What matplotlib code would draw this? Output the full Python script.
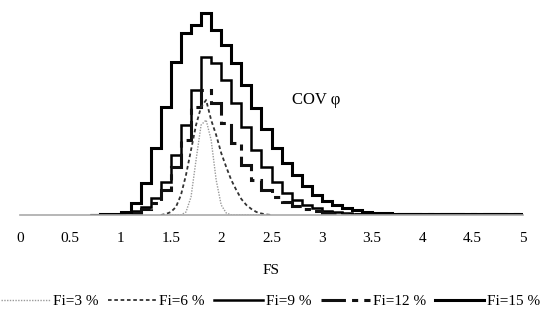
import numpy as np
import matplotlib
matplotlib.use("Agg")
import matplotlib.pyplot as plt

plt.rcParams['font.family'] = ['Liberation Serif', 'DejaVu Serif']

# FS bins for the coarse histograms (0.1 wide)
fs_edges = np.round(np.arange(0.7, 5.01, 0.1), 2)

# frequency per bin
fi15 = [0.5, 1, 1.5, 3, 12, 32, 67, 108, 153, 182, 190, 202, 185, 170, 152,
        130, 107, 86, 67, 52, 40, 29, 20, 14, 10, 7, 5, 3.5, 2.5, 2, 1.5,
        1.2, 1, 1, 1, 1, 1, 1, 1, 1, 1, 1, 1]
fi9 = [0, 0, 1, 2, 4, 8, 17, 33, 60, 90, 125, 158, 152, 135, 112,
       88, 65, 48, 33, 22, 15, 10, 7, 4, 3, 2, 1, 1, 1, 1, 1,
       1, 1, 1, 1, 1, 1, 1, 1, 1, 1, 1, 1]
fi12 = [0, 0, 0, 1, 2, 6, 12, 25, 48, 75, 108, 125, 112, 92, 72,
        50, 35, 25, 18, 13, 9, 6, 4, 2, 1, 1, 1, 1, 1, 1, 1,
        1, 1, 1, 1, 1, 1, 1, 1, 1, 1, 1, 1]

# fine curves (0.05 spacing)
fs_fine = [1.4, 1.45, 1.5, 1.55, 1.6, 1.65, 1.7, 1.75, 1.8, 1.85, 1.9, 1.95,
           2.0, 2.05, 2.1, 2.15, 2.2, 2.25, 2.3, 2.35, 2.4, 2.45, 2.5]
fi6 = [0, 1, 3, 8, 20, 40, 65, 90, 108, 115, 95, 80,
       62, 48, 35, 25, 16, 10, 6, 3, 1.5, 0.5, 0]
fi3 = [0, 0, 0, 0, 0, 3, 18, 55, 90, 95, 75, 35,
       10, 2, 0, 0, 0, 0, 0, 0, 0, 0, 0]

labels = ['Fi=3 %', 'Fi=6 %', 'Fi=9 %', 'Fi=12 %', 'Fi=15 %']

fig = plt.figure(figsize=(5.41, 3.23), dpi=100)
ax = fig.add_axes([20 / 541, 108 / 323, 503 / 541, 205 / 323])

l3, = ax.plot(fs_fine, fi3, color='#9a9a9a', lw=1.0, ls=(0, (1, 1)))
l6, = ax.plot(fs_fine, fi6, color='#333333', lw=1.3, ls=(0, (2, 1.5)))
s9 = ax.stairs(fi9, fs_edges, color='black', lw=1.8)
s12 = ax.stairs(fi12, fs_edges, color='#111111', lw=2.2, ls=(0, (8, 2, 2, 2)))
s15 = ax.stairs(fi15, fs_edges, color='black', lw=2.2)

ax.set_xlim(0, 5)
ax.set_ylim(0, 205)
ax.set_xticks([0, 0.5, 1, 1.5, 2, 2.5, 3, 3.5, 4, 4.5, 5])
ax.set_xticklabels(['0', '0.5', '1', '1.5', '2', '2.5', '3', '3.5', '4', '4.5', '5'])
ax.tick_params(axis='x', length=0, pad=12, labelsize=11)
ax.set_yticks([])
for side in ['top', 'right', 'left']:
    ax.spines[side].set_visible(False)
ax.spines['bottom'].set_color('#aaaaaa')
ax.spines['bottom'].set_linewidth(1.2)

ax.text(2.7, 115, 'COV φ', fontsize=12, va='center')

fig.text(271.5 / 541, 1 - 270 / 323, 'FS', ha='center', va='center', fontsize=11)

h9 = plt.Line2D([], [], color='black', lw=1.8)
h12 = plt.Line2D([], [], color='#111111', lw=2.2, ls=(0, (8, 2, 2, 2)))
h15 = plt.Line2D([], [], color='black', lw=2.2)
fig.legend([l3, l6, h9, h12, h15], labels, loc='center', ncol=5,
           bbox_to_anchor=(0.5, 1 - 301 / 323), frameon=False, fontsize=11,
           handlelength=3.2, handletextpad=0.2, columnspacing=0.6,
           borderpad=0, borderaxespad=0)

fig.savefig('out.png', dpi=100)
